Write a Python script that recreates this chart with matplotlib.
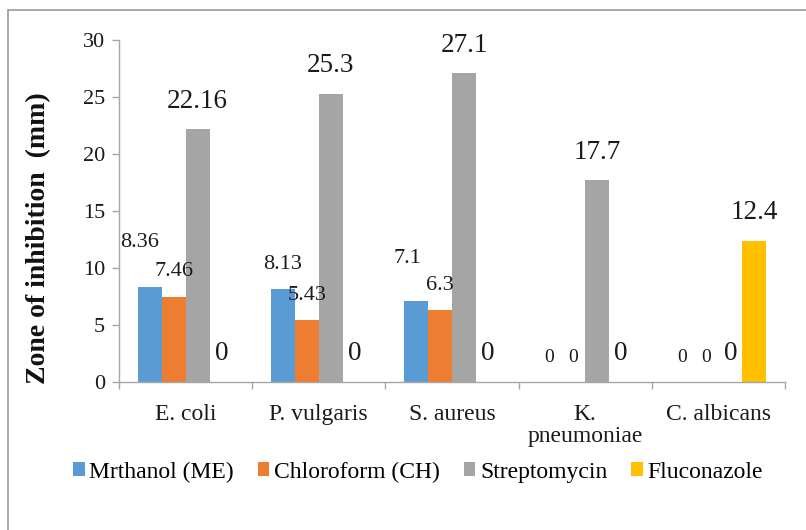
import matplotlib
matplotlib.use("Agg")
import matplotlib.pyplot as plt
from matplotlib.patches import Rectangle
import numpy as np

plt.rcParams['font.family'] = ['Liberation Serif', 'DejaVu Serif']

# Test organisms and treatments
organisms = ["E. coli", "P. vulgaris", "S. aureus", "K.\npneumoniae", "C. albicans"]
methanol = [8.36, 8.13, 7.1, 0, 0]
chloroform = [7.46, 5.43, 6.3, 0, 0]
streptomycin = [22.16, 25.3, 27.1, 17.7, 0]
fluconazole = [0, 0, 0, 0, 12.4]
series_names = ["Mrthanol (ME)", "Chloroform (CH)", "Streptomycin", "Fluconazole"]
y_ticks = [0, 5, 10, 15, 20, 25, 30]

series = [methanol, chloroform, streptomycin, fluconazole]
colors = ["#5B9BD5", "#ED7D31", "#A5A5A5", "#FFC000"]

W, H = 806, 530
fig = plt.figure(figsize=(W / 100, H / 100), dpi=100)

# outer frame of the chart area
fig.patches.append(Rectangle((8 / W, -0.1), 1.2, 1 - 10 / H + 0.1,
                             transform=fig.transFigure, fill=False,
                             edgecolor="#9a9a9a", linewidth=1.2))

ax = fig.add_axes([119 / W, 1 - 382 / H, (785 - 119) / W, (382 - 40) / H])

x = np.arange(len(organisms))
bw = 0.18
offsets = [-1.5 * bw, -0.5 * bw, 0.5 * bw, 1.5 * bw]

for vals, off, col, name in zip(series, offsets, colors, series_names):
    ax.bar(x + off, vals, bw, color=col, label=name, zorder=2)

# value labels (pixel offsets above each bar top)
shift = {(0, 0): (-10, 44), (0, 2): (-9, 43)}
for si, (vals, off) in enumerate(zip(series, offsets)):
    for ci, v in enumerate(vals):
        small = si < 2
        if small:
            size = 14 if v == 0 else 16
            dy = 25
        else:
            size = 19.5
            dy = 28
        dx, dy = shift.get((si, ci), (0, dy))
        ax.annotate(f"{v:g}", (x[ci] + off, v), xytext=(dx, dy),
                    textcoords="offset pixels", ha="center", va="center",
                    fontsize=size, color="#1a1a1a")

ax.set_xlim(-0.5, len(organisms) - 0.5)
ax.set_ylim(0, 30)
ax.set_yticks(y_ticks)
ax.set_xticks(x)
ax.set_xticklabels(organisms, fontsize=17, linespacing=1.05)
ax.set_xticks(np.arange(-0.5, len(organisms)), minor=True)
ax.tick_params(axis="x", which="major", length=0, pad=16, colors="#1a1a1a")
ax.tick_params(axis="x", which="minor", length=5, color="#a6a6a6", width=1)
ax.tick_params(axis="y", length=5, color="#a6a6a6", width=1, labelsize=16,
               pad=5, labelcolor="#1a1a1a")

for s in ["top", "right"]:
    ax.spines[s].set_visible(False)
for s in ["left", "bottom"]:
    ax.spines[s].set_color("#a6a6a6")
    ax.spines[s].set_linewidth(1)

fig.text(39 / W, 1 - 238 / H, "Zone of inhibition  (mm)", rotation=90,
         ha="center", va="center", fontsize=20, fontweight="bold",
         color="#111111")

fig.legend(loc="center", bbox_to_anchor=(418 / W, 1 - 472 / H), ncol=4,
           frameon=False, fontsize=17, handlelength=0.5, handleheight=0.55,
           handletextpad=0.2, columnspacing=1.0, borderaxespad=0)

fig.savefig("out.png", dpi=100)
